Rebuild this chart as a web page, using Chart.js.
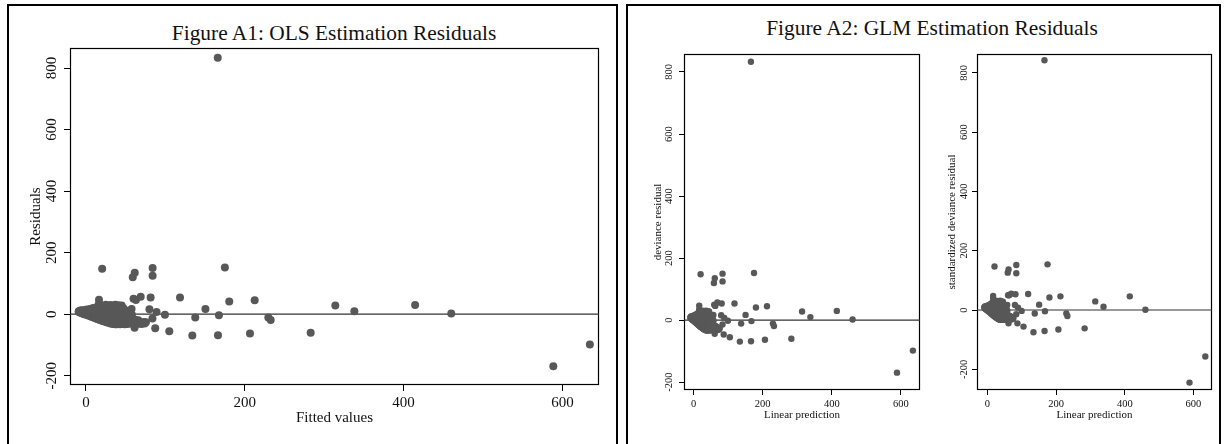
<!DOCTYPE html>
<html>
<head>
<meta charset="utf-8">
<script src="https://cdn.jsdelivr.net/npm/chart.js@4.4.1/dist/chart.umd.min.js"></script>
<style>
  body { margin: 0; background: #fff; width: 1225px; height: 444px; overflow: hidden; position: relative;
         font-family: "Liberation Serif", "Times New Roman", serif; }
  .panel { position: absolute; border: 2px solid #000; box-sizing: border-box; }
  .title { position: absolute; font-size: 21.4px; white-space: nowrap; transform: translate(-50%, -50%); color: #111; }
  canvas { position: absolute; }
</style>
</head>
<body>
<div class="panel" style="left:7px; top:4px; width:611px; height:470px;"></div>
<div class="panel" style="left:626px; top:4px; width:595px; height:470px;"></div>
<div class="title" style="left:334px; top:33px;">Figure A1: OLS Estimation Residuals</div>
<div class="title" style="left:932px; top:28px;">Figure A2: GLM Estimation Residuals</div>
<canvas id="olsChart"></canvas>
<canvas id="devChart"></canvas>
<canvas id="stdChart"></canvas>

<script>
// scattered points (same order in each array)
const fitted = [166, 20.5, 59, 61.5, 84, 84, 175, 16.5, 16.5, 60, 63, 69, 81.5, 118.5, 180.5, 212.5,
  150.5, 314, 338, 414.5, 460, 167.5, 137.7, 99.5, 89, 80, 57.5, 229.7, 232.7, 87.3, 105, 134,
  166.3, 206.6, 283, 61.3, 75.6, 588.5, 634.5, 83.8, 73, 66];
const residuals = [833, 148, 120, 135, 150, 125, 152, 47, 35, 50, 46, 57, 54, 54, 41, 45,
  17, 28, 10, 30, 2, -3, -11, -2, 7, 16, 17, -11, -19, -46, -55, -69,
  -68, -63, -60, -44, -26, -169, -98, -14, -25, -20];
const stdResiduals = [843, 147, 126, 137, 152, 124, 154, 47, 37, 50, 50, 55, 53, 54, 42, 46,
  18, 29, 11, 46, 1, -4, -12, -3, 8, 17, 17, -12, -20, -45, -56, -75,
  -71, -66, -62, -45, -27, -245, -157, -14, -25, -20];

// dense wedge near zero: residuals at each fitted value
const clusterX = [-9, -7, -5, -3, -1, 1, 3, 5, 7, 9, 11, 13, 15, 17, 19, 21, 23, 25, 27, 29,
  31, 33, 35, 37, 39, 41, 43, 45, 47, 49, 52, 55, 58, 62, 66, 70, 74];
const clusterY = [
  [10, 7], [12, 5, 9], [13, 3, 8], [11, 1, 6], [14, -1, 5, 9], [15, -2, 4, 10], [12, -4, 2, 7],
  [17, -6, 0, 6, 11], [13, -8, -3, 4], [20, -10, -5, 2, 9], [15, -12, -7, 0, 6], [22, -14, -9, -3, 5],
  [26, -16, -10, -4, 2, 12], [21, -18, -12, -6, 3], [18, -20, -14, -8, 0, 10], [27, -22, -16, -9, -2, 7],
  [24, -23, -18, -12, -4, 5], [31, -25, -19, -13, -6, 14], [28, -27, -20, -11, 2], [22, -28, -22, -15, -7, 10],
  [30, -30, -24, -17, -8, 4], [26, -31, -25, -14, -3], [19, -32, -26, -18, -9, 8], [31, -33, -27, -20, -5],
  [24, -33, -22, -12, 3], [29, -32, -26, -15, -4], [22, -33, -20, -8, 12], [28, -32, -25, -14],
  [20, -31, -18, -4], [14, -33, -22, -10], [10, -32, -25, -15], [6, -30, -20], [-2, -31, -24],
  [-28, -18], [-31, -24], [-32, -27], [-30]
];

const xTicks = [0, 200, 400, 600];
const yTicks = [-200, 0, 200, 400, 600, 800];

const dotColor = '#585858';
const serif = "'Liberation Serif', 'Times New Roman', serif";
Chart.defaults.font.family = serif;
Chart.defaults.color = '#111';

const clusterPoints = clusterX.flatMap((x, i) => clusterY[i].map(y => ({x: x, y: y})));
function toPoints(xs, ys) {
  return xs.map((x, i) => ({x: x, y: ys[i]})).concat(clusterPoints);
}

// box around the plot area + vertical y tick labels (Stata style)
const frameAndLabels = {
  id: 'frameAndLabels',
  beforeDatasetsDraw(chart) {
    const a = chart.chartArea, ctx = chart.ctx;
    ctx.save();
    ctx.strokeStyle = '#000';
    ctx.lineWidth = 1.2;
    ctx.strokeRect(a.left + 0.5, a.top + 0.5, a.right - a.left - 1, a.bottom - a.top - 1);
    ctx.restore();
  },
  afterDraw(chart, args, opts) {
    const a = chart.chartArea, ctx = chart.ctx, y = chart.scales.y;
    ctx.save();
    ctx.font = opts.size + 'px ' + serif;
    ctx.fillStyle = '#111';
    ctx.textAlign = 'center';
    ctx.textBaseline = 'middle';
    y.ticks.forEach(t => {
      ctx.save();
      ctx.translate(a.left - opts.offset, y.getPixelForValue(t.value));
      ctx.rotate(-Math.PI / 2);
      ctx.fillText(String(t.value), 0, 0);
      ctx.restore();
    });
    ctx.restore();
  }
};

function residualChart(id, s) {
  const c = document.getElementById(id);
  c.width = s.w; c.height = s.h;
  c.style.left = s.left + 'px'; c.style.top = s.top + 'px';
  return new Chart(c, {
    type: 'scatter',
    data: {
      datasets: [
        { data: s.points, backgroundColor: dotColor, borderWidth: 0, pointRadius: s.r, order: 1 },
        { type: 'line', data: [{x: s.xMin, y: 0}, {x: s.xMax, y: 0}], borderColor: '#333',
          borderWidth: 1.2, pointRadius: 0, order: 2 }
      ]
    },
    options: {
      responsive: false,
      animation: false,
      layout: { padding: { top: 4, right: 4, left: 0, bottom: 0 } },
      plugins: {
        legend: { display: false },
        tooltip: { enabled: false },
        frameAndLabels: { size: s.tickFont, offset: s.yLabelOffset }
      },
      scales: {
        x: {
          type: 'linear', min: s.xMin, max: s.xMax,
          afterBuildTicks: sc => { sc.ticks = xTicks.map(v => ({value: v})); },
          afterFit: sc => { sc.height = s.xH; },
          grid: { drawOnChartArea: false, color: '#000', tickLength: s.tick },
          border: { display: false },
          ticks: { font: { size: s.tickFont }, color: '#111', padding: 3, maxRotation: 0, autoSkip: false },
          title: { display: true, text: s.xTitle, font: { size: s.titleFont }, color: '#111',
                   padding: { top: 0, bottom: s.xTitlePad } }
        },
        y: {
          type: 'linear', min: s.yMin, max: s.yMax,
          afterBuildTicks: sc => { sc.ticks = yTicks.map(v => ({value: v})); },
          afterFit: sc => { sc.width = s.yW; },
          grid: { drawOnChartArea: false, color: '#000', tickLength: s.tick },
          border: { display: false },
          ticks: { display: false },
          title: { display: true, text: s.yTitle, font: { size: s.titleFont }, color: '#111',
                   padding: { top: s.yTitlePad, bottom: 0 } }
        }
      }
    },
    plugins: [frameAndLabels]
  });
}

residualChart('olsChart', {
  left: 20, top: 44, w: 583, h: 386, yW: 50, xH: 45,
  xMin: -20, xMax: 646, yMin: -230, yMax: 865,
  points: toPoints(fitted, residuals), r: 4,
  tick: 6, tickFont: 15, titleFont: 15, yLabelOffset: 18,
  xTitle: 'Fitted values', yTitle: 'Residuals', xTitlePad: 3, yTitlePad: 7
});

residualChart('devChart', {
  left: 644, top: 50, w: 280, h: 372, yW: 40, xH: 32,
  xMin: -27.5, xMax: 655, yMin: -225, yMax: 858,
  points: toPoints(fitted, residuals), r: 3.2,
  tick: 5, tickFont: 10.5, titleFont: 11, yLabelOffset: 15,
  xTitle: 'Linear prediction', yTitle: 'deviance residual', xTitlePad: 0, yTitlePad: 8
});

residualChart('stdChart', {
  left: 937, top: 50, w: 279, h: 372, yW: 40, xH: 32,
  xMin: -30.5, xMax: 654, yMin: -270, yMax: 864,
  points: toPoints(fitted, stdResiduals), r: 3.2,
  tick: 5, tickFont: 10.5, titleFont: 11, yLabelOffset: 13,
  xTitle: 'Linear prediction', yTitle: 'standardized deviance residual', xTitlePad: 0, yTitlePad: 9
});
</script>
</body>
</html>
